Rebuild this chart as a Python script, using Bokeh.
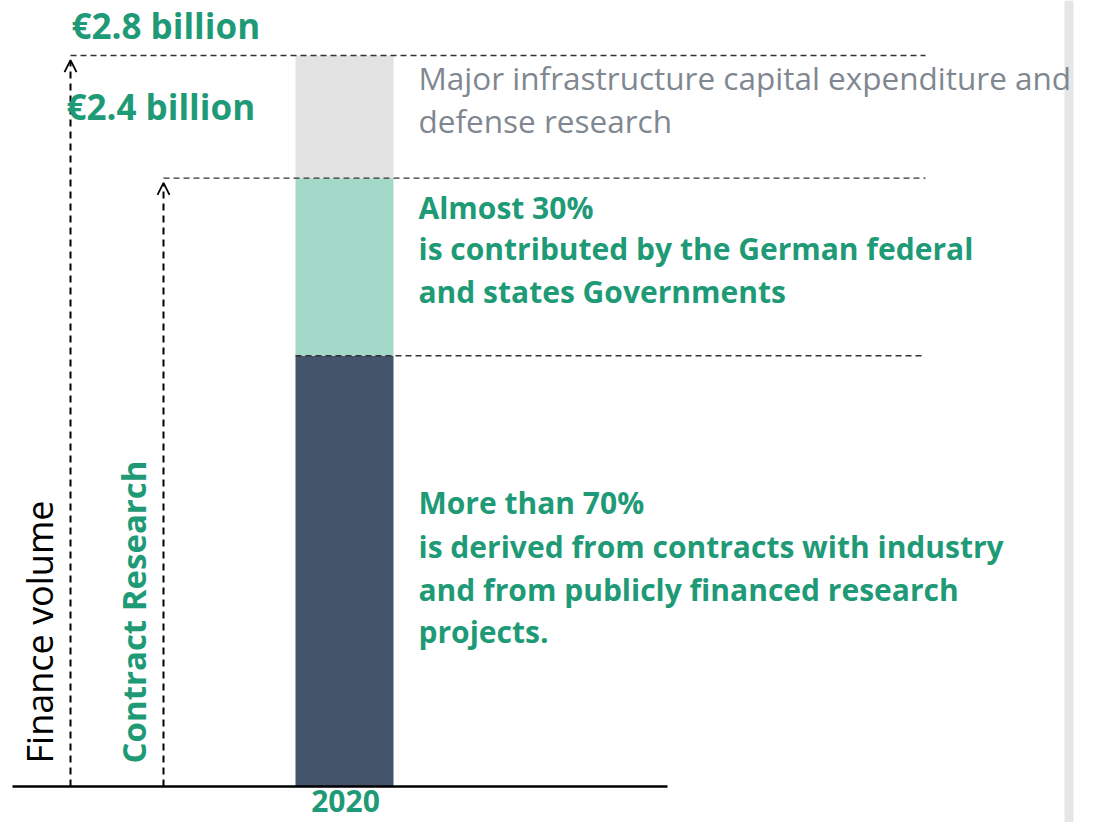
import numpy as np
from bokeh.plotting import figure
from bokeh.models import Range1d, Label, Arrow, OpenHead, Span
from bokeh.embed import file_html
from bokeh.resources import INLINE

# ---- data (billion euro, 2020) ----
years = ["2020"]
segment_names = ["Contracts with industry and public projects",
                 "German federal and states Governments",
                 "Major infrastructure capital expenditure and defense research"]
segment_values = [1.65, 0.68, 0.47]
segment_colors = ["#44546a", "#a3d9c8", "#e3e3e3"]
total_labels = ["€2.8 billion", "€2.4 billion"]
axis_labels = ["Finance volume", "Contract Research"]

GREEN = "#1f9a77"
GRAY_TXT = "#7f8891"
FONT = "Open Sans"

W, H = 1081, 822
# pixel mapping: value 0 at canvas y 786, total at canvas y 55
total = sum(segment_values)
k = (786 - 55) / total
ymax = total + 55 / k
ymin = -(H - 786) / k

p = figure(width=W, height=H, output_backend="svg", toolbar_location=None,
           x_range=Range1d(0, W), y_range=Range1d(ymin, ymax), min_border=0)
p.axis.visible = False
p.grid.visible = False
p.outline_line_color = None
p.background_fill_color = "white"

cum = np.cumsum([0] + segment_values)
bottoms = cum[:-1]
tops = cum[1:]
bar_x = 344
bar_w = 98
p.vbar(x=[bar_x] * 3, width=bar_w, bottom=bottoms, top=tops,
       fill_color=segment_colors, line_color=None)

# baseline
p.segment(x0=[12], y0=[0], x1=[667], y1=[0], line_color="black", line_width=2.5)

# dashed reference lines
dash_starts = [70, 163, bar_x - bar_w / 2]
dash_levels = [tops[2], tops[1], tops[0]]
p.segment(x0=dash_starts, y0=dash_levels, x1=[925] * 3, y1=dash_levels,
          line_color="#333333", line_width=1.3, line_dash="6 4")

# vertical arrows
for xa, lvl in [(70, tops[2]), (163, tops[1])]:
    p.add_layout(Arrow(x_start=xa, y_start=0, x_end=xa, y_end=lvl - 0.018,
                       line_color="black", line_width=2, line_dash="7 5",
                       end=OpenHead(size=12, line_width=1.8, line_color="black")))

# right gray strip
p.add_layout(Span(location=1068.5, dimension="height", line_color="#e6e6e6", line_width=9))


def lab(text, cx, base, size, color, bold=False, angle=0, align="left"):
    # base: canvas y of the text's baseline (horizontal); for rotated text cx is the glyph centre
    if angle == 0:
        yy = H - (base - 0.36 * size)
    else:
        yy = H - base
    p.add_layout(Label(x=cx, y=yy, x_units="screen", y_units="screen",
                       text=text, text_font=FONT, text_font_size=f"{size}px",
                       text_color=color, text_font_style="bold" if bold else "normal",
                       text_baseline="middle", text_align=align, angle=angle))


lab(total_labels[0], 71, 38, 35, GREEN, True)
lab(total_labels[1], 66, 119, 35, GREEN, True)

lab("Major infrastructure capital expenditure and", 418, 88, 31.5, GRAY_TXT)
lab("defense research", 418, 131, 31.5, GRAY_TXT)

for t, py in zip(["Almost 30%", "is contributed by the German federal", "and states Governments"],
                 [218, 259, 302]):
    lab(t, 418, py, 30, GREEN, True)

for t, py in zip(["More than 70%", "is derived from contracts with industry",
                  "and from publicly financed research", "projects."],
                 [513, 557, 600, 642]):
    lab(t, 418, py, 30, GREEN, True)

lab(years[0], 345, 811, 30, GREEN, True, align="center")

lab(axis_labels[0], 39, 763, 36, "black", False, angle=np.pi / 2)
lab(axis_labels[1], 133, 763, 33, GREEN, True, angle=np.pi / 2)

open("out.html", "w").write(file_html(p, INLINE))
